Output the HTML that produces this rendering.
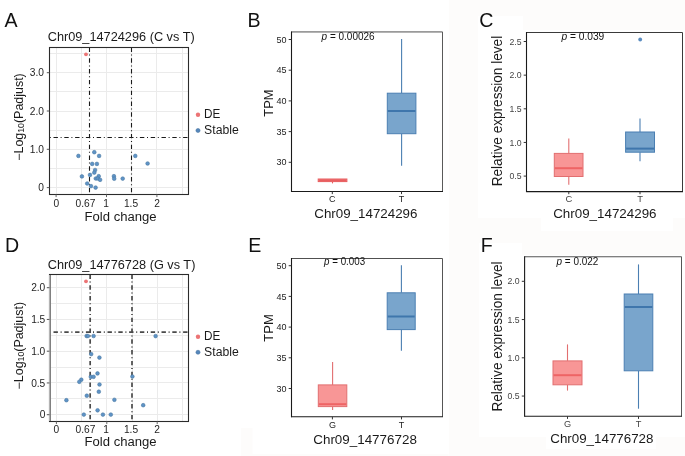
<!DOCTYPE html>
<html><head><meta charset="utf-8"><title>Figure</title>
<style>
html,body{margin:0;padding:0;background:#fff;}
body{width:685px;height:456px;overflow:hidden;}
svg{display:block;will-change:transform;filter:blur(0.3px);}
svg text{font-family:"Liberation Sans",sans-serif;}
</style></head>
<body>
<svg width="685" height="456" viewBox="0 0 685 456">
<rect x="0" y="0" width="685" height="456" fill="#ffffff"/>
<rect x="449" y="0" width="236" height="456" fill="#fdfcfb"/>
<rect x="478" y="16" width="45" height="202" fill="#fff"/>
<rect x="523" y="30" width="162" height="188" fill="#fff"/>
<rect x="541" y="218" width="132" height="13" fill="#fff"/>
<rect x="479" y="243" width="43" height="194" fill="#fff"/>
<rect x="522" y="255" width="163" height="182" fill="#fff"/>
<rect x="546" y="437" width="110" height="12" fill="#fff"/>
<rect x="241" y="428" width="11.5" height="28" fill="#fdfcfb"/>
<rect x="241" y="454" width="207.5" height="2" fill="#fdfcfb"/>
<text x="4.6" y="26.8" font-size="19.6" text-anchor="start" fill="#111" >A</text>
<text x="247.4" y="27.0" font-size="19.6" text-anchor="start" fill="#111" >B</text>
<text x="479.2" y="27.3" font-size="19.6" text-anchor="start" fill="#111" >C</text>
<text x="4.9" y="251.9" font-size="19.6" text-anchor="start" fill="#111" >D</text>
<text x="248.2" y="252.1" font-size="19.6" text-anchor="start" fill="#111" >E</text>
<text x="480.8" y="251.7" font-size="19.6" text-anchor="start" fill="#111" >F</text>
<line x1="56.5" y1="47.5" x2="56.5" y2="194.5" stroke="#ebebeb" stroke-width="1" />
<line x1="81.5" y1="47.5" x2="81.5" y2="194.5" stroke="#ebebeb" stroke-width="1" />
<line x1="106.5" y1="47.5" x2="106.5" y2="194.5" stroke="#ebebeb" stroke-width="1" />
<line x1="131.5" y1="47.5" x2="131.5" y2="194.5" stroke="#ebebeb" stroke-width="1" />
<line x1="156.5" y1="47.5" x2="156.5" y2="194.5" stroke="#ebebeb" stroke-width="1" />
<line x1="182.5" y1="47.5" x2="182.5" y2="194.5" stroke="#ebebeb" stroke-width="1" />
<line x1="49.5" y1="187.5" x2="188.5" y2="187.5" stroke="#ebebeb" stroke-width="1" />
<line x1="49.5" y1="168.5" x2="188.5" y2="168.5" stroke="#ebebeb" stroke-width="1" />
<line x1="49.5" y1="149.5" x2="188.5" y2="149.5" stroke="#ebebeb" stroke-width="1" />
<line x1="49.5" y1="130.5" x2="188.5" y2="130.5" stroke="#ebebeb" stroke-width="1" />
<line x1="49.5" y1="111.5" x2="188.5" y2="111.5" stroke="#ebebeb" stroke-width="1" />
<line x1="49.5" y1="91.5" x2="188.5" y2="91.5" stroke="#ebebeb" stroke-width="1" />
<line x1="49.5" y1="72.5" x2="188.5" y2="72.5" stroke="#ebebeb" stroke-width="1" />
<line x1="49.5" y1="53.5" x2="188.5" y2="53.5" stroke="#ebebeb" stroke-width="1" />
<line x1="89.5" y1="47.5" x2="89.5" y2="194.5" stroke="#1a1a1a" stroke-width="1.1" stroke-dasharray="4.4 2.7 1 2.7"/>
<line x1="131.5" y1="47.5" x2="131.5" y2="194.5" stroke="#1a1a1a" stroke-width="1.1" stroke-dasharray="4.4 2.7 1 2.7"/>
<line x1="49.5" y1="137.5" x2="188.5" y2="137.5" stroke="#1a1a1a" stroke-width="1.1" stroke-dasharray="4.4 2.7 1 2.7" stroke-dashoffset="6.8"/>
<circle cx="94.3" cy="152.2" r="1.85" fill="#5f93c6" stroke="#48779f" stroke-width="0.55"/>
<circle cx="78.4" cy="155.9" r="1.85" fill="#5f93c6" stroke="#48779f" stroke-width="0.55"/>
<circle cx="99.1" cy="155.9" r="1.85" fill="#5f93c6" stroke="#48779f" stroke-width="0.55"/>
<circle cx="92.2" cy="163.9" r="1.85" fill="#5f93c6" stroke="#48779f" stroke-width="0.55"/>
<circle cx="96.9" cy="163.9" r="1.85" fill="#5f93c6" stroke="#48779f" stroke-width="0.55"/>
<circle cx="95.1" cy="170.0" r="1.85" fill="#5f93c6" stroke="#48779f" stroke-width="0.55"/>
<circle cx="94.3" cy="172.6" r="1.85" fill="#5f93c6" stroke="#48779f" stroke-width="0.55"/>
<circle cx="81.9" cy="176.4" r="1.85" fill="#5f93c6" stroke="#48779f" stroke-width="0.55"/>
<circle cx="90.0" cy="174.9" r="1.85" fill="#5f93c6" stroke="#48779f" stroke-width="0.55"/>
<circle cx="98.7" cy="176.2" r="1.85" fill="#5f93c6" stroke="#48779f" stroke-width="0.55"/>
<circle cx="95.8" cy="178.5" r="1.85" fill="#5f93c6" stroke="#48779f" stroke-width="0.55"/>
<circle cx="97.7" cy="178.5" r="1.85" fill="#5f93c6" stroke="#48779f" stroke-width="0.55"/>
<circle cx="100.1" cy="179.8" r="1.85" fill="#5f93c6" stroke="#48779f" stroke-width="0.55"/>
<circle cx="87.2" cy="183.5" r="1.85" fill="#5f93c6" stroke="#48779f" stroke-width="0.55"/>
<circle cx="91.0" cy="186.1" r="1.85" fill="#5f93c6" stroke="#48779f" stroke-width="0.55"/>
<circle cx="95.6" cy="187.6" r="1.85" fill="#5f93c6" stroke="#48779f" stroke-width="0.55"/>
<circle cx="113.9" cy="176.2" r="1.85" fill="#5f93c6" stroke="#48779f" stroke-width="0.55"/>
<circle cx="114.2" cy="178.7" r="1.85" fill="#5f93c6" stroke="#48779f" stroke-width="0.55"/>
<circle cx="122.7" cy="178.6" r="1.85" fill="#5f93c6" stroke="#48779f" stroke-width="0.55"/>
<circle cx="135.3" cy="155.9" r="1.85" fill="#5f93c6" stroke="#48779f" stroke-width="0.55"/>
<circle cx="147.6" cy="163.5" r="1.85" fill="#5f93c6" stroke="#48779f" stroke-width="0.55"/>
<circle cx="86.0" cy="54.3" r="1.9" fill="#ec7475"/>
<rect x="49.5" y="47.5" width="139.0" height="147.0" fill="none" stroke="#2b2b2b" stroke-width="1.1"/>
<line x1="46.8" y1="187.6" x2="49.5" y2="187.6" stroke="#555" stroke-width="1" />
<text x="44.0" y="191.2" font-size="10.2" text-anchor="end" fill="#1e1e1e" >0</text>
<line x1="46.8" y1="149.3" x2="49.5" y2="149.3" stroke="#555" stroke-width="1" />
<text x="44.0" y="152.9" font-size="10.2" text-anchor="end" fill="#1e1e1e" >1.0</text>
<line x1="46.8" y1="111.0" x2="49.5" y2="111.0" stroke="#555" stroke-width="1" />
<text x="44.0" y="114.6" font-size="10.2" text-anchor="end" fill="#1e1e1e" >2.0</text>
<line x1="46.8" y1="72.7" x2="49.5" y2="72.7" stroke="#555" stroke-width="1" />
<text x="44.0" y="76.3" font-size="10.2" text-anchor="end" fill="#1e1e1e" >3.0</text>
<line x1="56.1" y1="194.5" x2="56.1" y2="197.1" stroke="#666" stroke-width="1" />
<text x="56.4" y="206.9" font-size="10.2" text-anchor="middle" fill="#1e1e1e" >0</text>
<text x="85.5" y="206.9" font-size="10.2" text-anchor="middle" fill="#1e1e1e" >0.67</text>
<line x1="106.5" y1="194.5" x2="106.5" y2="197.1" stroke="#666" stroke-width="1" />
<text x="106.2" y="206.9" font-size="10.2" text-anchor="middle" fill="#1e1e1e" >1</text>
<text x="131.0" y="206.9" font-size="10.2" text-anchor="middle" fill="#1e1e1e" >1.5</text>
<line x1="156.9" y1="194.5" x2="156.9" y2="197.1" stroke="#666" stroke-width="1" />
<text x="157.0" y="206.9" font-size="10.2" text-anchor="middle" fill="#1e1e1e" >2</text>
<text x="120.6" y="221.4" font-size="12.3" text-anchor="middle" fill="#1a1a1a" textLength="72.0" lengthAdjust="spacingAndGlyphs" >Fold change</text>
<text x="47.7" y="40.9" font-size="12.1" text-anchor="start" fill="#1a1a1a" textLength="147.0" lengthAdjust="spacingAndGlyphs" >Chr09_14724296 (C vs T)</text>
<text transform="translate(22.8 117.0) rotate(-90)" font-size="12" text-anchor="middle" fill="#1a1a1a" textLength="87.5" lengthAdjust="spacingAndGlyphs">&#8722;Log<tspan font-size="8.4" dy="1.5">10</tspan><tspan dy="-1.5">(Padjust)</tspan></text>
<circle cx="198" cy="114.7" r="2.2" fill="#ec7475"/>
<circle cx="198" cy="130.5" r="2.05" fill="#5587bb" stroke="#3f6d9a" stroke-width="0.5"/>
<text x="204.1" y="117.60000000000001" font-size="12" text-anchor="start" fill="#1a1a1a" textLength="16.3" lengthAdjust="spacingAndGlyphs" >DE</text>
<text x="204.1" y="133.8" font-size="12" text-anchor="start" fill="#1a1a1a" textLength="34.7" lengthAdjust="spacingAndGlyphs" >Stable</text>
<line x1="56.5" y1="274.5" x2="56.5" y2="421.5" stroke="#ebebeb" stroke-width="1" />
<line x1="81.5" y1="274.5" x2="81.5" y2="421.5" stroke="#ebebeb" stroke-width="1" />
<line x1="106.5" y1="274.5" x2="106.5" y2="421.5" stroke="#ebebeb" stroke-width="1" />
<line x1="132.5" y1="274.5" x2="132.5" y2="421.5" stroke="#ebebeb" stroke-width="1" />
<line x1="157.5" y1="274.5" x2="157.5" y2="421.5" stroke="#ebebeb" stroke-width="1" />
<line x1="182.5" y1="274.5" x2="182.5" y2="421.5" stroke="#ebebeb" stroke-width="1" />
<line x1="49.5" y1="414.5" x2="188.5" y2="414.5" stroke="#ebebeb" stroke-width="1" />
<line x1="49.5" y1="398.5" x2="188.5" y2="398.5" stroke="#ebebeb" stroke-width="1" />
<line x1="49.5" y1="382.5" x2="188.5" y2="382.5" stroke="#ebebeb" stroke-width="1" />
<line x1="49.5" y1="367.5" x2="188.5" y2="367.5" stroke="#ebebeb" stroke-width="1" />
<line x1="49.5" y1="351.5" x2="188.5" y2="351.5" stroke="#ebebeb" stroke-width="1" />
<line x1="49.5" y1="335.5" x2="188.5" y2="335.5" stroke="#ebebeb" stroke-width="1" />
<line x1="49.5" y1="319.5" x2="188.5" y2="319.5" stroke="#ebebeb" stroke-width="1" />
<line x1="49.5" y1="303.5" x2="188.5" y2="303.5" stroke="#ebebeb" stroke-width="1" />
<line x1="49.5" y1="287.5" x2="188.5" y2="287.5" stroke="#ebebeb" stroke-width="1" />
<line x1="90.168" y1="274.5" x2="90.168" y2="421.5" stroke="#4a4a4a" stroke-width="1.7" stroke-dasharray="4.4 2.7 1 2.7"/>
<line x1="132.0" y1="274.5" x2="132.0" y2="421.5" stroke="#4a4a4a" stroke-width="1.7" stroke-dasharray="4.4 2.7 1 2.7"/>
<line x1="49.5" y1="332.084595" x2="188.5" y2="332.084595" stroke="#4a4a4a" stroke-width="1.7" stroke-dasharray="4.4 2.7 1 2.7" stroke-dashoffset="6.8"/>
<circle cx="86.6" cy="336.0" r="1.85" fill="#5f93c6" stroke="#48779f" stroke-width="0.55"/>
<circle cx="87.9" cy="336.0" r="1.85" fill="#5f93c6" stroke="#48779f" stroke-width="0.55"/>
<circle cx="93.6" cy="336.0" r="1.85" fill="#5f93c6" stroke="#48779f" stroke-width="0.55"/>
<circle cx="91.2" cy="354.1" r="1.85" fill="#5f93c6" stroke="#48779f" stroke-width="0.55"/>
<circle cx="99.4" cy="357.6" r="1.85" fill="#5f93c6" stroke="#48779f" stroke-width="0.55"/>
<circle cx="97.5" cy="373.4" r="1.85" fill="#5f93c6" stroke="#48779f" stroke-width="0.55"/>
<circle cx="90.8" cy="376.8" r="1.85" fill="#5f93c6" stroke="#48779f" stroke-width="0.55"/>
<circle cx="93.6" cy="376.8" r="1.85" fill="#5f93c6" stroke="#48779f" stroke-width="0.55"/>
<circle cx="81.3" cy="379.7" r="1.85" fill="#5f93c6" stroke="#48779f" stroke-width="0.55"/>
<circle cx="79.3" cy="381.8" r="1.85" fill="#5f93c6" stroke="#48779f" stroke-width="0.55"/>
<circle cx="99.5" cy="384.5" r="1.85" fill="#5f93c6" stroke="#48779f" stroke-width="0.55"/>
<circle cx="98.8" cy="391.7" r="1.85" fill="#5f93c6" stroke="#48779f" stroke-width="0.55"/>
<circle cx="86.8" cy="395.7" r="1.85" fill="#5f93c6" stroke="#48779f" stroke-width="0.55"/>
<circle cx="66.4" cy="400.2" r="1.85" fill="#5f93c6" stroke="#48779f" stroke-width="0.55"/>
<circle cx="114.4" cy="399.8" r="1.85" fill="#5f93c6" stroke="#48779f" stroke-width="0.55"/>
<circle cx="97.6" cy="410.3" r="1.85" fill="#5f93c6" stroke="#48779f" stroke-width="0.55"/>
<circle cx="83.8" cy="414.6" r="1.85" fill="#5f93c6" stroke="#48779f" stroke-width="0.55"/>
<circle cx="102.9" cy="414.6" r="1.85" fill="#5f93c6" stroke="#48779f" stroke-width="0.55"/>
<circle cx="110.8" cy="414.6" r="1.85" fill="#5f93c6" stroke="#48779f" stroke-width="0.55"/>
<circle cx="155.6" cy="336.1" r="1.85" fill="#5f93c6" stroke="#48779f" stroke-width="0.55"/>
<circle cx="132.4" cy="376.5" r="1.85" fill="#5f93c6" stroke="#48779f" stroke-width="0.55"/>
<circle cx="143.2" cy="405.2" r="1.85" fill="#5f93c6" stroke="#48779f" stroke-width="0.55"/>
<circle cx="86.0" cy="281.3" r="1.9" fill="#ec7475"/>
<rect x="49.5" y="274.5" width="139.0" height="147.0" fill="none" stroke="#2b2b2b" stroke-width="1.1"/>
<line x1="49.7" y1="275.0" x2="49.7" y2="421.0" stroke="#ffffff" stroke-width="1.4" />
<line x1="50.2" y1="275.0" x2="50.2" y2="421.0" stroke="#808080" stroke-width="1.6" />
<line x1="46.8" y1="414.7" x2="49.5" y2="414.7" stroke="#555" stroke-width="1" />
<text x="45.3" y="418.3" font-size="10.2" text-anchor="end" fill="#1e1e1e" >0</text>
<line x1="46.8" y1="382.95" x2="49.5" y2="382.95" stroke="#555" stroke-width="1" />
<text x="45.3" y="386.55" font-size="10.2" text-anchor="end" fill="#1e1e1e" >0.5</text>
<line x1="46.8" y1="351.2" x2="49.5" y2="351.2" stroke="#555" stroke-width="1" />
<text x="45.3" y="354.8" font-size="10.2" text-anchor="end" fill="#1e1e1e" >1.0</text>
<line x1="46.8" y1="319.45" x2="49.5" y2="319.45" stroke="#555" stroke-width="1" />
<text x="45.3" y="323.05" font-size="10.2" text-anchor="end" fill="#1e1e1e" >1.5</text>
<line x1="46.8" y1="287.7" x2="49.5" y2="287.7" stroke="#555" stroke-width="1" />
<text x="45.3" y="291.3" font-size="10.2" text-anchor="end" fill="#1e1e1e" >2.0</text>
<line x1="56.4" y1="421.5" x2="56.4" y2="424.1" stroke="#666" stroke-width="1" />
<text x="56.4" y="433.3" font-size="10.2" text-anchor="middle" fill="#1e1e1e" >0</text>
<text x="85.5" y="433.3" font-size="10.2" text-anchor="middle" fill="#1e1e1e" >0.67</text>
<line x1="106.8" y1="421.5" x2="106.8" y2="424.1" stroke="#666" stroke-width="1" />
<text x="106.2" y="433.3" font-size="10.2" text-anchor="middle" fill="#1e1e1e" >1</text>
<text x="131.0" y="433.3" font-size="10.2" text-anchor="middle" fill="#1e1e1e" >1.5</text>
<line x1="157.2" y1="421.5" x2="157.2" y2="424.1" stroke="#666" stroke-width="1" />
<text x="157.0" y="433.3" font-size="10.2" text-anchor="middle" fill="#1e1e1e" >2</text>
<text x="120.6" y="446.3" font-size="12.3" text-anchor="middle" fill="#1a1a1a" textLength="72.0" lengthAdjust="spacingAndGlyphs" >Fold change</text>
<text x="47.7" y="268.8" font-size="12.1" text-anchor="start" fill="#1a1a1a" textLength="147.7" lengthAdjust="spacingAndGlyphs" >Chr09_14776728 (G vs T)</text>
<text transform="translate(22.8 345.7) rotate(-90)" font-size="12" text-anchor="middle" fill="#1a1a1a" textLength="87.5" lengthAdjust="spacingAndGlyphs">&#8722;Log<tspan font-size="8.4" dy="1.5">10</tspan><tspan dy="-1.5">(Padjust)</tspan></text>
<circle cx="198" cy="336.7" r="2.2" fill="#ec7475"/>
<circle cx="198" cy="352.3" r="2.05" fill="#5587bb" stroke="#3f6d9a" stroke-width="0.5"/>
<text x="204.1" y="339.59999999999997" font-size="12" text-anchor="start" fill="#1a1a1a" textLength="16.3" lengthAdjust="spacingAndGlyphs" >DE</text>
<text x="204.1" y="355.6" font-size="12" text-anchor="start" fill="#1a1a1a" textLength="34.7" lengthAdjust="spacingAndGlyphs" >Stable</text>
<line x1="332.5" y1="179.0" x2="332.5" y2="179.0" stroke="#e85e60" stroke-width="1.1" />
<line x1="332.5" y1="181.6" x2="332.5" y2="183.4" stroke="#e85e60" stroke-width="1.1" />
<rect x="318.2" y="179.0" width="28.69999999999999" height="2.5999999999999943" fill="#f89696" stroke="#e85e60" stroke-width="1"/>
<line x1="318.7" y1="180.3" x2="346.4" y2="180.3" stroke="#e85e60" stroke-width="2.0" />
<line x1="401.6" y1="38.9" x2="401.6" y2="93.2" stroke="#4b7fb2" stroke-width="1.1" />
<line x1="401.6" y1="133.7" x2="401.6" y2="165.8" stroke="#4b7fb2" stroke-width="1.1" />
<rect x="387.3" y="93.2" width="28.599999999999966" height="40.499999999999986" fill="#79a5cc" stroke="#4b7fb2" stroke-width="1"/>
<line x1="387.8" y1="111.0" x2="415.4" y2="111.0" stroke="#3f76ac" stroke-width="2.0" />
<line x1="291.5" y1="31.9" x2="442.5" y2="31.9" stroke="#9a9a9a" stroke-width="1.6" />
<line x1="442.5" y1="31.9" x2="442.5" y2="191.5" stroke="#5a5a5a" stroke-width="1.0" />
<line x1="291.5" y1="191.5" x2="443.0" y2="191.5" stroke="#1a1a1a" stroke-width="1.1" />
<line x1="291.5" y1="31.4" x2="291.5" y2="192.0" stroke="#1a1a1a" stroke-width="1.1" />
<line x1="288.7" y1="162.3" x2="291.5" y2="162.3" stroke="#333" stroke-width="1" />
<text x="286.5" y="165.4" font-size="9.0" text-anchor="end" fill="#222" >30</text>
<line x1="288.7" y1="131.6" x2="291.5" y2="131.6" stroke="#333" stroke-width="1" />
<text x="286.5" y="134.7" font-size="9.0" text-anchor="end" fill="#222" >35</text>
<line x1="288.7" y1="100.9" x2="291.5" y2="100.9" stroke="#333" stroke-width="1" />
<text x="286.5" y="104.0" font-size="9.0" text-anchor="end" fill="#222" >40</text>
<line x1="288.7" y1="70.2" x2="291.5" y2="70.2" stroke="#333" stroke-width="1" />
<text x="286.5" y="73.3" font-size="9.0" text-anchor="end" fill="#222" >45</text>
<line x1="288.7" y1="39.5" x2="291.5" y2="39.5" stroke="#333" stroke-width="1" />
<text x="286.5" y="42.6" font-size="9.0" text-anchor="end" fill="#222" >50</text>
<line x1="332.3" y1="191.5" x2="332.3" y2="194.1" stroke="#333" stroke-width="1" />
<text x="332.3" y="202.3" font-size="9.0" text-anchor="middle" fill="#222" >C</text>
<line x1="401.5" y1="191.5" x2="401.5" y2="194.1" stroke="#333" stroke-width="1" />
<text x="401.5" y="202.3" font-size="9.0" text-anchor="middle" fill="#222" >T</text>
<text x="321.6" y="39.5" font-size="10" fill="#111" textLength="53.0" lengthAdjust="spacingAndGlyphs"><tspan font-style="italic">p</tspan> = 0.00026</text>
<text x="365.85" y="218.4" font-size="13.2" text-anchor="middle" fill="#1a1a1a" textLength="103.20000000000003" lengthAdjust="spacingAndGlyphs" >Chr09_14724296</text>
<text transform="translate(273.4 103.15) rotate(-90)" font-size="13.3" text-anchor="middle" fill="#1a1a1a" textLength="27.10000000000001" lengthAdjust="spacingAndGlyphs">TPM</text>
<line x1="332.6" y1="362.1" x2="332.6" y2="384.9" stroke="#e26f70" stroke-width="1.1" />
<line x1="332.6" y1="406.6" x2="332.6" y2="409.9" stroke="#e26f70" stroke-width="1.1" />
<rect x="318.3" y="384.9" width="28.5" height="21.700000000000045" fill="#f89696" stroke="#e26f70" stroke-width="1"/>
<line x1="318.8" y1="404.2" x2="346.3" y2="404.2" stroke="#ee6465" stroke-width="2.0" />
<line x1="401.4" y1="265.2" x2="401.4" y2="292.8" stroke="#4b7fb2" stroke-width="1.1" />
<line x1="401.4" y1="329.6" x2="401.4" y2="350.7" stroke="#4b7fb2" stroke-width="1.1" />
<rect x="387.2" y="292.8" width="28.0" height="36.80000000000001" fill="#79a5cc" stroke="#4b7fb2" stroke-width="1"/>
<line x1="387.7" y1="316.5" x2="414.7" y2="316.5" stroke="#3f76ac" stroke-width="2.0" />
<line x1="291.5" y1="258.5" x2="442.5" y2="258.5" stroke="#505050" stroke-width="1.1" />
<line x1="442.5" y1="258.5" x2="442.5" y2="416.8" stroke="#555555" stroke-width="1.0" />
<line x1="291.5" y1="416.8" x2="443.0" y2="416.8" stroke="#1a1a1a" stroke-width="1.1" />
<line x1="291.5" y1="258.0" x2="291.5" y2="417.3" stroke="#1a1a1a" stroke-width="1.1" />
<line x1="288.7" y1="388.5" x2="291.5" y2="388.5" stroke="#333" stroke-width="1" />
<text x="286.5" y="391.6" font-size="9.0" text-anchor="end" fill="#222" >30</text>
<line x1="288.7" y1="357.79999999999995" x2="291.5" y2="357.79999999999995" stroke="#333" stroke-width="1" />
<text x="286.5" y="360.9" font-size="9.0" text-anchor="end" fill="#222" >35</text>
<line x1="288.7" y1="327.09999999999997" x2="291.5" y2="327.09999999999997" stroke="#333" stroke-width="1" />
<text x="286.5" y="330.2" font-size="9.0" text-anchor="end" fill="#222" >40</text>
<line x1="288.7" y1="296.4" x2="291.5" y2="296.4" stroke="#333" stroke-width="1" />
<text x="286.5" y="299.5" font-size="9.0" text-anchor="end" fill="#222" >45</text>
<line x1="288.7" y1="265.7" x2="291.5" y2="265.7" stroke="#333" stroke-width="1" />
<text x="286.5" y="268.8" font-size="9.0" text-anchor="end" fill="#222" >50</text>
<line x1="332.4" y1="416.8" x2="332.4" y2="419.40000000000003" stroke="#333" stroke-width="1" />
<text x="332.4" y="428.3" font-size="9.0" text-anchor="middle" fill="#222" >G</text>
<line x1="401.5" y1="416.8" x2="401.5" y2="419.40000000000003" stroke="#333" stroke-width="1" />
<text x="401.5" y="428.3" font-size="9.0" text-anchor="middle" fill="#222" >T</text>
<text x="324.1" y="265.0" font-size="10" fill="#111" textLength="41.0" lengthAdjust="spacingAndGlyphs"><tspan font-style="italic">p</tspan> = 0.003</text>
<text x="365.04999999999995" y="444.2" font-size="13.2" text-anchor="middle" fill="#1a1a1a" textLength="103.60000000000001" lengthAdjust="spacingAndGlyphs" >Chr09_14776728</text>
<text transform="translate(273.2 328.0) rotate(-90)" font-size="13.3" text-anchor="middle" fill="#1a1a1a" textLength="27.399999999999977" lengthAdjust="spacingAndGlyphs">TPM</text>
<line x1="568.8" y1="138.5" x2="568.8" y2="153.4" stroke="#e26f70" stroke-width="1.1" />
<line x1="568.8" y1="176.5" x2="568.8" y2="184.8" stroke="#e26f70" stroke-width="1.1" />
<rect x="554.3" y="153.4" width="28.700000000000045" height="23.099999999999994" fill="#f89696" stroke="#e26f70" stroke-width="1"/>
<line x1="554.8" y1="168.2" x2="582.5" y2="168.2" stroke="#ee6465" stroke-width="2.0" />
<line x1="640.0" y1="118.5" x2="640.0" y2="132.0" stroke="#4b7fb2" stroke-width="1.1" />
<line x1="640.0" y1="152.2" x2="640.0" y2="161.2" stroke="#4b7fb2" stroke-width="1.1" />
<rect x="625.6" y="132.0" width="28.899999999999977" height="20.19999999999999" fill="#79a5cc" stroke="#4b7fb2" stroke-width="1"/>
<line x1="626.1" y1="148.6" x2="654.0" y2="148.6" stroke="#3f76ac" stroke-width="2.0" />
<circle cx="640.2" cy="39.5" r="1.9" fill="#5a8cc0"/>
<line x1="526.5" y1="32.5" x2="682.5" y2="32.5" stroke="#3a3a3a" stroke-width="1.1" />
<line x1="682.5" y1="32.5" x2="682.5" y2="191.6" stroke="#3a3a3a" stroke-width="1.0" />
<line x1="526.5" y1="191.6" x2="683.0" y2="191.6" stroke="#1a1a1a" stroke-width="1.1" />
<line x1="526.5" y1="32.0" x2="526.5" y2="192.1" stroke="#1a1a1a" stroke-width="1.1" />
<line x1="523.7" y1="176.1" x2="526.5" y2="176.1" stroke="#333" stroke-width="1" />
<text x="521.5" y="179.2" font-size="8.7" text-anchor="end" fill="#444" >0.5</text>
<line x1="523.7" y1="142.45" x2="526.5" y2="142.45" stroke="#333" stroke-width="1" />
<text x="521.5" y="145.54999999999998" font-size="8.7" text-anchor="end" fill="#444" >1.0</text>
<line x1="523.7" y1="108.8" x2="526.5" y2="108.8" stroke="#333" stroke-width="1" />
<text x="521.5" y="111.89999999999999" font-size="8.7" text-anchor="end" fill="#444" >1.5</text>
<line x1="523.7" y1="75.15" x2="526.5" y2="75.15" stroke="#333" stroke-width="1" />
<text x="521.5" y="78.25" font-size="8.7" text-anchor="end" fill="#444" >2.0</text>
<line x1="523.7" y1="41.5" x2="526.5" y2="41.5" stroke="#333" stroke-width="1" />
<text x="521.5" y="44.6" font-size="8.7" text-anchor="end" fill="#444" >2.5</text>
<line x1="568.8" y1="191.6" x2="568.8" y2="194.2" stroke="#333" stroke-width="1" />
<text x="568.8" y="202.0" font-size="9.4" text-anchor="middle" fill="#444" >C</text>
<line x1="640.0" y1="191.6" x2="640.0" y2="194.2" stroke="#333" stroke-width="1" />
<text x="640.0" y="202.0" font-size="9.4" text-anchor="middle" fill="#444" >T</text>
<text x="561.4" y="40.0" font-size="10" fill="#111" textLength="42.9" lengthAdjust="spacingAndGlyphs"><tspan font-style="italic">p</tspan> = 0.039</text>
<text x="604.8499999999999" y="218.4" font-size="13.2" text-anchor="middle" fill="#1a1a1a" textLength="103.40000000000002" lengthAdjust="spacingAndGlyphs" >Chr09_14724296</text>
<text transform="translate(501.9 111.05000000000001) rotate(-90)" font-size="14.1" text-anchor="middle" fill="#1a1a1a" textLength="150.5" lengthAdjust="spacingAndGlyphs">Relative expression level</text>
<line x1="567.5" y1="344.4" x2="567.5" y2="360.9" stroke="#e26f70" stroke-width="1.1" />
<line x1="567.5" y1="384.8" x2="567.5" y2="390.6" stroke="#e26f70" stroke-width="1.1" />
<rect x="553.0" y="360.9" width="29.0" height="23.900000000000034" fill="#f89696" stroke="#e26f70" stroke-width="1"/>
<line x1="553.5" y1="375.2" x2="581.5" y2="375.2" stroke="#ee6465" stroke-width="2.0" />
<line x1="638.5" y1="264.4" x2="638.5" y2="294.0" stroke="#4b7fb2" stroke-width="1.1" />
<line x1="638.5" y1="370.8" x2="638.5" y2="408.7" stroke="#4b7fb2" stroke-width="1.1" />
<rect x="624.2" y="294.0" width="28.59999999999991" height="76.80000000000001" fill="#79a5cc" stroke="#4b7fb2" stroke-width="1"/>
<line x1="624.7" y1="307.0" x2="652.3" y2="307.0" stroke="#3f76ac" stroke-width="2.0" />
<line x1="524.6" y1="256.7" x2="681.5" y2="256.7" stroke="#555" stroke-width="1.1" />
<line x1="681.5" y1="256.7" x2="681.5" y2="416.3" stroke="#555" stroke-width="1.0" />
<line x1="524.6" y1="416.3" x2="682.0" y2="416.3" stroke="#1a1a1a" stroke-width="1.1" />
<line x1="524.6" y1="256.2" x2="524.6" y2="416.8" stroke="#1a1a1a" stroke-width="1.1" />
<line x1="521.8000000000001" y1="396.05" x2="524.6" y2="396.05" stroke="#333" stroke-width="1" />
<text x="519.6" y="399.15000000000003" font-size="8.7" text-anchor="end" fill="#444" >0.5</text>
<line x1="521.8000000000001" y1="357.8" x2="524.6" y2="357.8" stroke="#333" stroke-width="1" />
<text x="519.6" y="360.90000000000003" font-size="8.7" text-anchor="end" fill="#444" >1.0</text>
<line x1="521.8000000000001" y1="319.55" x2="524.6" y2="319.55" stroke="#333" stroke-width="1" />
<text x="519.6" y="322.65000000000003" font-size="8.7" text-anchor="end" fill="#444" >1.5</text>
<line x1="521.8000000000001" y1="281.3" x2="524.6" y2="281.3" stroke="#333" stroke-width="1" />
<text x="519.6" y="284.40000000000003" font-size="8.7" text-anchor="end" fill="#444" >2.0</text>
<line x1="567.5" y1="416.3" x2="567.5" y2="418.90000000000003" stroke="#333" stroke-width="1" />
<text x="567.5" y="426.5" font-size="9.2" text-anchor="middle" fill="#444" >G</text>
<line x1="638.5" y1="416.3" x2="638.5" y2="418.90000000000003" stroke="#333" stroke-width="1" />
<text x="638.5" y="426.5" font-size="9.2" text-anchor="middle" fill="#444" >T</text>
<text x="556.5" y="264.8" font-size="10" fill="#111" textLength="41.8" lengthAdjust="spacingAndGlyphs"><tspan font-style="italic">p</tspan> = 0.022</text>
<text x="601.8499999999999" y="443.2" font-size="13.2" text-anchor="middle" fill="#1a1a1a" textLength="103.19999999999997" lengthAdjust="spacingAndGlyphs" >Chr09_14776728</text>
<text transform="translate(501.9 336.55) rotate(-90)" font-size="14.1" text-anchor="middle" fill="#1a1a1a" textLength="150.10000000000002" lengthAdjust="spacingAndGlyphs">Relative expression level</text>
</svg>
</body></html>
